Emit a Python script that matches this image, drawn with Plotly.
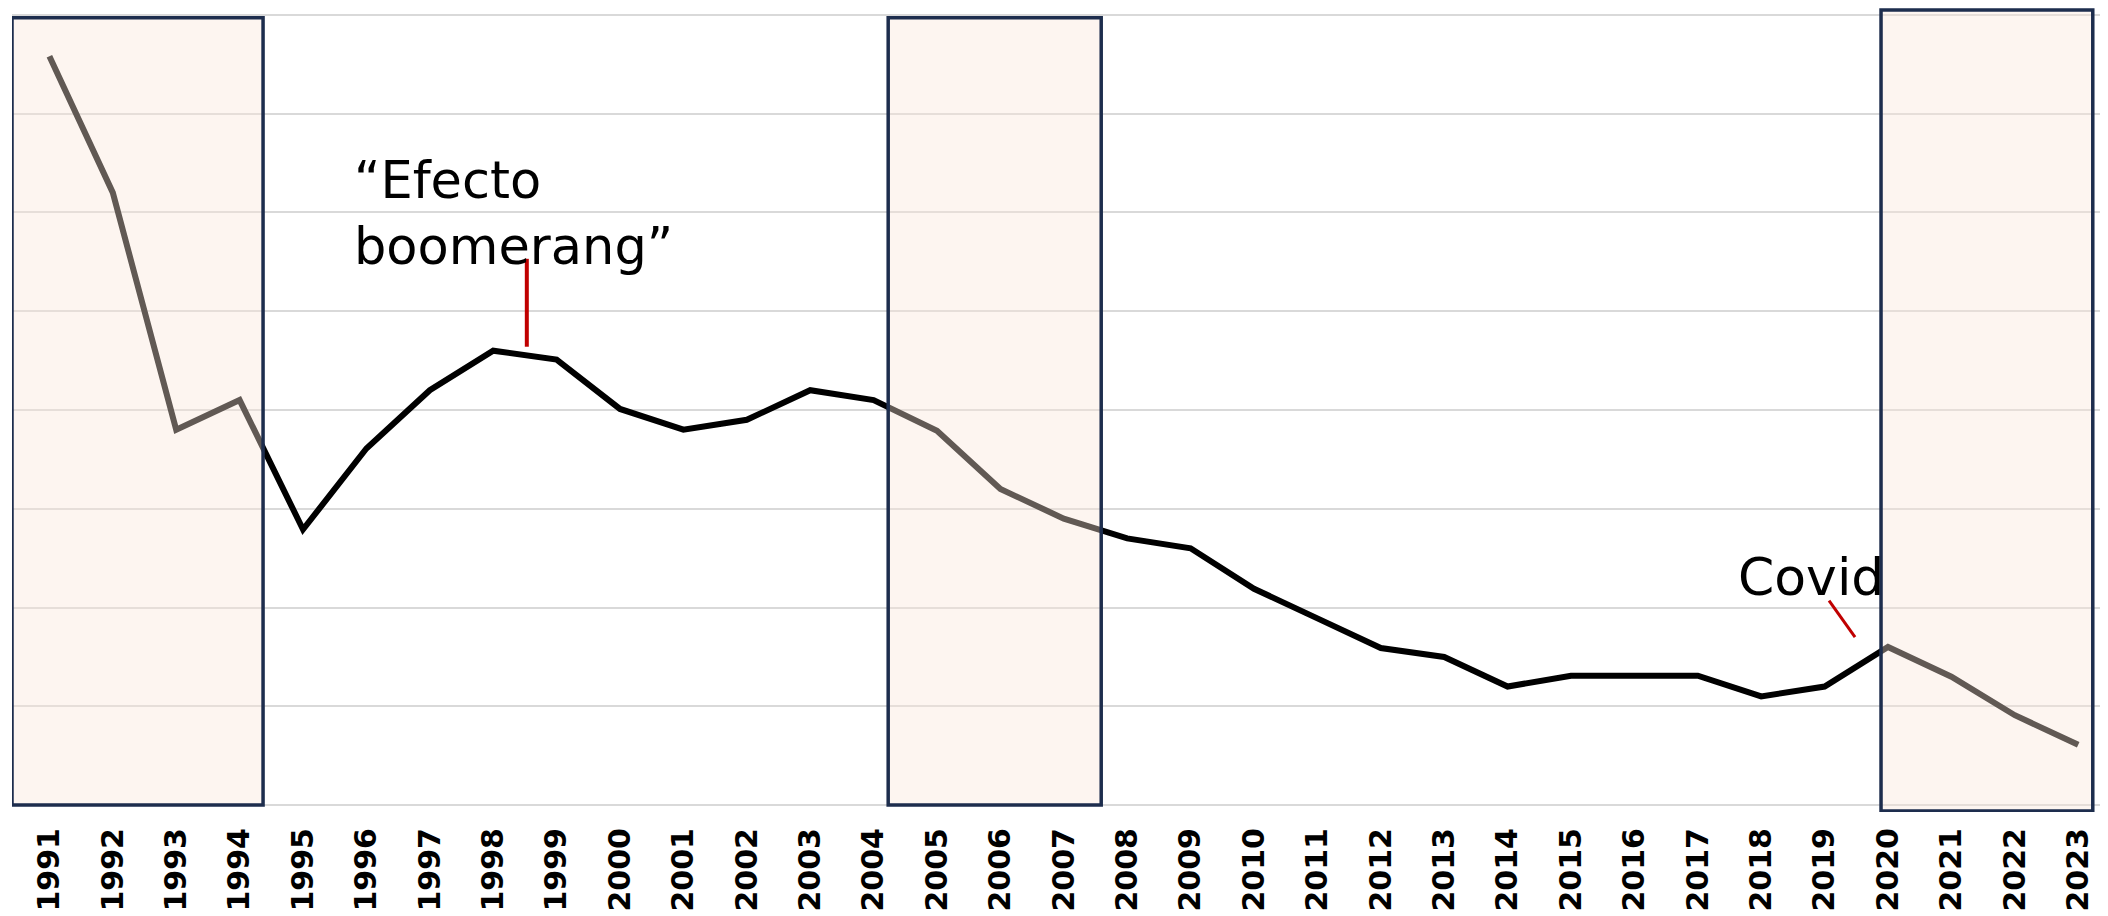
import plotly.graph_objects as go

# datos (eje Y sin escala, unidades = lineas de rejilla)
anios = list(range(1991, 2024))
valores = [7.58, 6.20, 3.80, 4.10, 2.79, 3.61, 4.20, 4.60, 4.51, 4.01,
           3.80, 3.90, 4.20, 4.10, 3.79, 3.20, 2.90, 2.70, 2.60, 2.19,
           1.89, 1.59, 1.50, 1.20, 1.31, 1.31, 1.31, 1.10, 1.20, 1.60,
           1.30, 0.91, 0.61]
etiquetas = [str(a) for a in anios]

# periodos sombreados (inicio, fin, base, tope)
periodos = [
    (1990.41, 1994.37, 0.0, 7.97),
    (2004.23, 2007.59, 0.0, 7.97),
    (2019.89, 2023.23, -0.06, 8.05),
]

fig = go.Figure()
fig.add_trace(go.Scatter(
    x=anios, y=valores, mode="lines",
    line=dict(color="black", width=6),
    showlegend=False, hoverinfo="skip",
))

for x0, x1, y0, y1 in periodos:
    fig.add_shape(type="rect", xref="x", yref="y", x0=x0, x1=x1, y0=y0, y1=y1,
                  fillcolor="rgba(250,228,216,0.39)",
                  line=dict(color="#1d2d4d", width=3.5), layer="above")

# marcadores rojos de las anotaciones
fig.add_shape(type="line", xref="x", yref="y", x0=1998.53, x1=1998.53, y0=5.53, y1=4.64,
              line=dict(color="#c00000", width=4))
fig.add_shape(type="line", xref="x", yref="y", x0=2019.07, x1=2019.48, y0=2.07, y1=1.70,
              line=dict(color="#c00000", width=3))

fig.add_annotation(x=1995.78, y=6.64, xref="x", yref="y", xanchor="left", yanchor="top",
                   text="“Efecto<br>boomerang”", showarrow=False, align="left",
                   font=dict(family="DejaVu Sans", size=51, color="black"))
fig.add_annotation(x=2017.6, y=2.63, xref="x", yref="y", xanchor="left", yanchor="top",
                   text="Covid", showarrow=False,
                   font=dict(family="DejaVu Sans", size=52, color="black"))

fig.update_xaxes(range=[1990.41, 2023.47], tickmode="array", tickvals=anios, ticktext=etiquetas,
                 tickangle=-90, showgrid=False, zeroline=False, showline=False, automargin=False,
                 ticks="outside", ticklen=3, tickcolor="rgba(0,0,0,0)",
                 tickfont=dict(family="DejaVu Sans", size=30, color="black", weight="bold"))
fig.update_yaxes(range=[-0.07, 8.069], tick0=0, dtick=1, showticklabels=False, automargin=False,
                 showgrid=True, gridcolor="#d9d9d9", gridwidth=2, zeroline=False, showline=False)

# la pagina deja 8 px de margen alrededor del grafico
fig.update_layout(width=2100, height=908, margin=dict(l=4, r=0, t=0, b=104),
                  plot_bgcolor="white", paper_bgcolor="white")

fig.write_html("out.html")
